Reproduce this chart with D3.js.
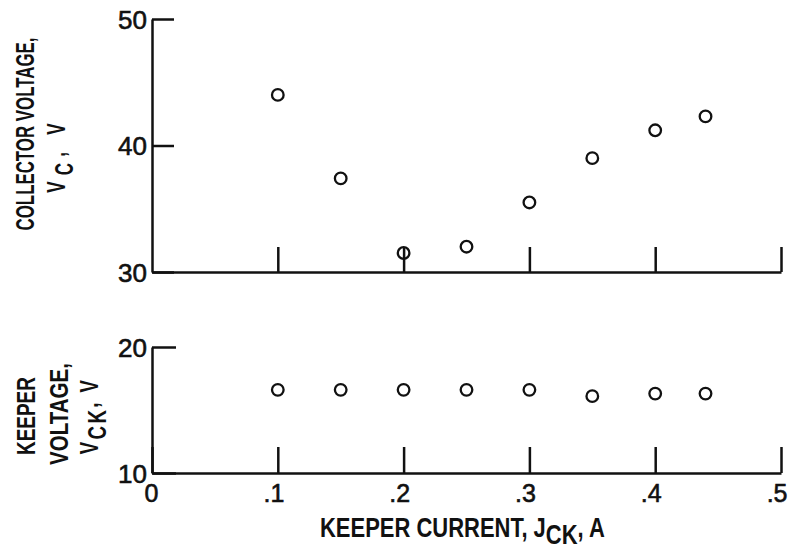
<!DOCTYPE html>
<html>
<head>
<meta charset="utf-8">
<script src="https://cdn.jsdelivr.net/npm/d3@7"></script>
<style>
  body { margin: 0; background: #fff; }
  svg text { font-family: "Liberation Sans", Arial, sans-serif; fill: #111; }
</style>
</head>
<body>
<svg width="791" height="548"></svg>
<script>
// keeper current, A
var current = [0.1, 0.15, 0.2, 0.25, 0.3, 0.35, 0.4, 0.44];
// collector voltage, V
var collectorV = [44.0, 37.4, 31.5, 32.0, 35.5, 39.0, 41.2, 42.3];
// keeper voltage, V
var keeperV = [16.6, 16.6, 16.6, 16.6, 16.6, 16.1, 16.3, 16.3];

var xTicks = [0, 0.1, 0.2, 0.3, 0.4, 0.5];
var topTicks = [30, 40, 50];
var botTicks = [10, 20];

var svg = d3.select('svg');

var x = d3.scaleLinear().domain([0, 0.5]).range([152, 781]);
var yTop = d3.scaleLinear().domain([30, 50]).range([272, 19]);
var yBot = d3.scaleLinear().domain([10, 20]).range([473, 347]);

function styleAxis(g) {
  g.selectAll('path, line').attr('stroke', '#111').attr('stroke-width', 2.5);
  g.selectAll('text').attr('fill', '#111').attr('stroke', '#111').attr('stroke-width', 0.6);
}

function xFmt(d) { return d === 0 ? '0' : '.' + Math.round(d * 10); }

// top panel
svg.append('g')
  .attr('transform', 'translate(0,' + yTop(30) + ')')
  .call(d3.axisBottom(x).tickValues(xTicks.slice(1)).tickSizeInner(-25).tickSizeOuter(0).tickFormat(''))
  .call(styleAxis);

svg.append('g')
  .attr('transform', 'translate(' + x(0) + ',0)')
  .call(d3.axisLeft(yTop).tickValues(topTicks).tickSizeInner(-22).tickSizeOuter(0).tickPadding(5))
  .call(styleAxis)
  .call(function(g) {
    g.selectAll('text').attr('font-size', 26).attr('dy', '0.36em');
  });

// bottom panel
svg.append('g')
  .attr('transform', 'translate(0,' + yBot(10) + ')')
  .call(d3.axisBottom(x).tickValues(xTicks).tickSizeInner(-26).tickSizeOuter(0).tickPadding(11).tickFormat(xFmt))
  .call(styleAxis)
  .call(function(g) {
    g.selectAll('text').attr('font-size', 25).attr('text-anchor', 'end').attr('dx', 6);
  });

svg.append('g')
  .attr('transform', 'translate(' + x(0) + ',0)')
  .call(d3.axisLeft(yBot).tickValues(botTicks).tickSizeInner(-24).tickSizeOuter(0).tickPadding(5))
  .call(styleAxis)
  .call(function(g) {
    g.selectAll('text').attr('font-size', 26).attr('dy', '0.36em');
  });

// points
svg.append('g').selectAll('circle')
  .data(current)
  .join('circle')
  .attr('cx', function(d) { return x(d); })
  .attr('cy', function(d, i) { return yTop(collectorV[i]); })
  .attr('r', 5.8)
  .attr('fill', 'none')
  .attr('stroke', '#111')
  .attr('stroke-width', 2.3);

svg.append('g').selectAll('circle')
  .data(current)
  .join('circle')
  .attr('cx', function(d) { return x(d); })
  .attr('cy', function(d, i) { return yBot(keeperV[i]); })
  .attr('r', 5.8)
  .attr('fill', 'none')
  .attr('stroke', '#111')
  .attr('stroke-width', 2.3);

// condensed text: squeeze by k (or to len), spread letters if both are given
function label(px, py, len, k, size, rotate, anchor, parts) {
  var t = svg.append('text')
    .attr('text-anchor', anchor)
    .attr('font-size', size)
    .attr('font-weight', 'bold');
  var n = 0;
  parts.forEach(function(p) {
    var s = t.append('tspan').text(p[0]);
    if (p[1]) s.attr('dy', p[1]);
    n += p[0].length;
  });
  var w = t.node().getBBox().width;
  if (!k) k = len / w;
  else t.attr('letter-spacing', (len / k - w) / n);
  t.attr('transform', 'translate(' + px + ',' + py + ')' + (rotate ? ' rotate(-90)' : '') + ' scale(' + k + ',1)');
  return t;
}

label(34, 134, 193, null, 25, true, 'middle', [['COLLECTOR VOLTAGE,']]);
label(65, 155, 76, 0.68, 25, true, 'middle', [['V'], ['C', 8], [',', -8], [' V']]);

label(35, 416, 78, null, 26, true, 'middle', [['KEEPER']]);
label(68, 414, 102, null, 26, true, 'middle', [['VOLTAGE,']]);
label(98, 416, 77, 0.72, 26, true, 'middle', [['V'], ['CK', 8], [',', -8], [' V']]);

label(320, 537, 285, null, 28, false, 'start',
  [['KEEPER CURRENT, J'], ['CK', 7], [',', -7], ['  A']]);
</script>
</body>
</html>
